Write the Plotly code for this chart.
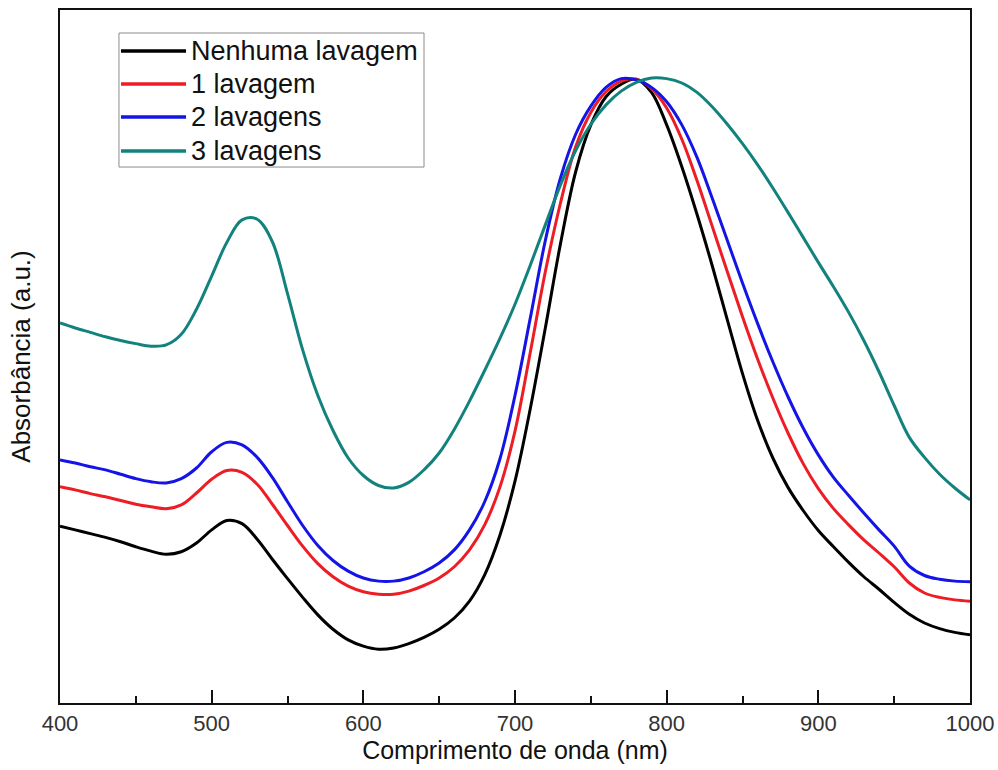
import plotly.graph_objects as go

# UV-Vis absorbance spectra of the colloid after successive washes (10 nm sampling)
wavelength = list(range(400, 1001, 10))

abs_none = [0.283, 0.277, 0.271, 0.265, 0.258, 0.250, 0.243, 0.238, 0.242, 0.256,
            0.277, 0.292, 0.287, 0.262, 0.230, 0.199, 0.169, 0.141, 0.118, 0.101,
            0.091, 0.086, 0.088, 0.095, 0.105, 0.118, 0.136, 0.163, 0.205, 0.268,
            0.355, 0.470, 0.600, 0.735, 0.850, 0.925, 0.970, 0.990, 0.998, 0.977,
            0.925, 0.858, 0.782, 0.700, 0.613, 0.527, 0.452, 0.392, 0.345, 0.308,
            0.276, 0.250, 0.225, 0.202, 0.182, 0.161, 0.142, 0.128, 0.119, 0.113,
            0.109]

abs_1 = [0.346, 0.341, 0.335, 0.330, 0.324, 0.318, 0.314, 0.311, 0.317, 0.336,
         0.358, 0.372, 0.369, 0.350, 0.318, 0.284, 0.251, 0.223, 0.202, 0.187,
         0.178, 0.174, 0.174, 0.179, 0.188, 0.200, 0.218, 0.245, 0.285, 0.345,
         0.435, 0.560, 0.690, 0.800, 0.890, 0.945, 0.978, 0.995, 0.998, 0.983,
         0.952, 0.902, 0.836, 0.763, 0.690, 0.618, 0.550, 0.488, 0.432, 0.383,
         0.343, 0.311, 0.285, 0.261, 0.240, 0.218, 0.192, 0.176, 0.169, 0.165,
         0.163]

abs_2 = [0.389, 0.384, 0.378, 0.373, 0.366, 0.359, 0.354, 0.352, 0.359, 0.376,
         0.402, 0.417, 0.413, 0.393, 0.361, 0.322, 0.284, 0.252, 0.228, 0.211,
         0.200, 0.195, 0.195, 0.200, 0.210, 0.224, 0.245, 0.277, 0.322, 0.390,
         0.492, 0.615, 0.740, 0.840, 0.910, 0.955, 0.985, 0.999, 0.997, 0.985,
         0.962, 0.925, 0.873, 0.808, 0.740, 0.672, 0.607, 0.546, 0.490, 0.440,
         0.397, 0.361, 0.332, 0.304, 0.277, 0.251, 0.219, 0.204, 0.198, 0.195,
         0.194]

abs_3 = [0.608, 0.600, 0.593, 0.586, 0.580, 0.575, 0.571, 0.573, 0.590, 0.630,
         0.683, 0.737, 0.773, 0.774, 0.738, 0.655, 0.565, 0.492, 0.436, 0.392,
         0.364, 0.348, 0.344, 0.353, 0.373, 0.400, 0.438, 0.483, 0.532, 0.583,
         0.638, 0.700, 0.765, 0.829, 0.884, 0.926, 0.957, 0.979, 0.993, 1.000,
         0.999, 0.992, 0.977, 0.954, 0.926, 0.895, 0.861, 0.824, 0.785, 0.745,
         0.705, 0.666, 0.625, 0.580, 0.530, 0.476, 0.425, 0.393, 0.366, 0.344,
         0.325]

series_names = ["Nenhuma lavagem", "1 lavagem", "2 lavagens", "3 lavagens"]
series_values = [abs_none, abs_1, abs_2, abs_3]
series_colors = ["#000000", "#ee1c24", "#1414e6", "#12827d"]

x_ticks = [400, 500, 600, 700, 800, 900, 1000]

font_family = "Liberation Sans, Arial, sans-serif"

fig = go.Figure()
for name, values, color in zip(series_names, series_values, series_colors):
    fig.add_trace(go.Scatter(
        x=wavelength, y=values, name=name, mode="lines",
        line=dict(color=color, width=3, shape="spline", smoothing=1.0),
        showlegend=False,
    ))

# Boxed legend in the upper-left corner of the plot area
legend_box = dict(x0=0.0648, x1=0.400, y0=0.7734, y1=0.9668)
row_y = [0.9408, 0.8932, 0.8456, 0.7965]
sample_x = (0.0670, 0.1385)
text_x = 0.1420

fig.add_shape(type="rect", xref="paper", yref="paper", **legend_box,
              line=dict(color="#8c8c8c", width=1), fillcolor="white", layer="above")
for name, color, y in zip(series_names, series_colors, row_y):
    fig.add_shape(type="line", xref="paper", yref="paper",
                  x0=sample_x[0], x1=sample_x[1], y0=y, y1=y,
                  line=dict(color=color, width=3.5), layer="above")
    fig.add_annotation(xref="paper", yref="paper", x=text_x, y=y,
                       xanchor="left", yanchor="middle", text=name, showarrow=False,
                       font=dict(size=27, color="#111111", family=font_family))

fig.update_layout(
    width=998, height=770,
    margin=dict(l=60, r=28, t=10, b=67),
    paper_bgcolor="white", plot_bgcolor="white",
    font=dict(family=font_family, color="#222222"),
    showlegend=False,
    xaxis=dict(
        range=[400, 1000], tickvals=x_ticks, ticktext=[str(v) for v in x_ticks],
        ticks="inside", ticklen=13, tickwidth=2, tickcolor="#111111",
        minor=dict(dtick=50, tick0=400, ticks="inside", ticklen=7, tickwidth=2, tickcolor="#111111"),
        showline=True, linecolor="#111111", linewidth=2, mirror=True,
        showgrid=False, zeroline=False, automargin=False,
        tickfont=dict(size=22, color="#333333"),
        title=dict(text="Comprimento de onda (nm)", font=dict(size=25, color="#111111"), standoff=6),
    ),
    yaxis=dict(
        range=[0, 1.1088], showticklabels=False, ticks="",
        showline=True, linecolor="#111111", linewidth=2, mirror=True,
        showgrid=False, zeroline=False, automargin=False,
        title=dict(text="Absorbância (a.u.)", font=dict(size=26, color="#111111"), standoff=20),
    ),
)

fig.write_html("out.html")
